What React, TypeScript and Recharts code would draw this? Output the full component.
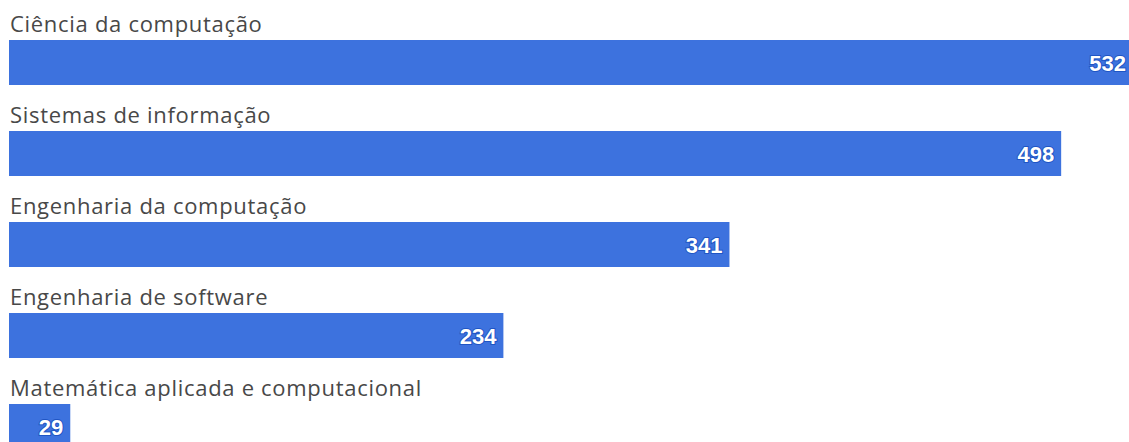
import React from 'react';
import { BarChart, Bar, XAxis, YAxis, LabelList } from 'recharts';

const categories = [
  'Ciência da computação',
  'Sistemas de informação',
  'Engenharia da computação',
  'Engenharia de software',
  'Matemática aplicada e computacional',
];
const counts = [532, 498, 341, 234, 29];

const data = categories.map((name, i) => ({ name, value: counts[i] }));

const BAR_COLOR = '#3d72de';

const CategoryLabel = (props: any) => {
  const { x, y, value } = props;
  return (
    <text
      x={x + 1}
      y={y - 8}
      fill="#484848"
      fontSize={22}
      letterSpacing={0.7}
      fontFamily="'Open Sans', sans-serif"
    >
      {value}
    </text>
  );
};

const ValueLabel = (props: any) => {
  const { x, y, width, height, value } = props;
  return (
    <text
      x={x + width - 7}
      y={y + height / 2 + 1}
      textAnchor="end"
      dominantBaseline="central"
      fill="#fff"
      stroke="#1f55c4"
      strokeWidth={2}
      paintOrder="stroke"
      fontSize={22}
      fontWeight="bold"
      fontFamily="'Liberation Sans', Arial, sans-serif"
    >
      {value}
    </text>
  );
};

export default function App() {
  return (
    <div style={{ position: 'absolute', left: 0, top: 0, width: 1129, height: 442, overflow: 'hidden', background: '#fff' }}>
      <BarChart
        width={1133}
        height={480}
        data={data}
        layout="vertical"
        margin={{ top: 17, right: 0, bottom: 8, left: 9 }}
        barSize={45}
      >
        <XAxis type="number" domain={[0, 532]} hide />
        <YAxis type="category" dataKey="name" hide width={0} />
        <Bar dataKey="value" fill={BAR_COLOR} isAnimationActive={false}>
          <LabelList dataKey="name" content={CategoryLabel} />
          <LabelList dataKey="value" content={ValueLabel} />
        </Bar>
      </BarChart>
    </div>
  );
}
